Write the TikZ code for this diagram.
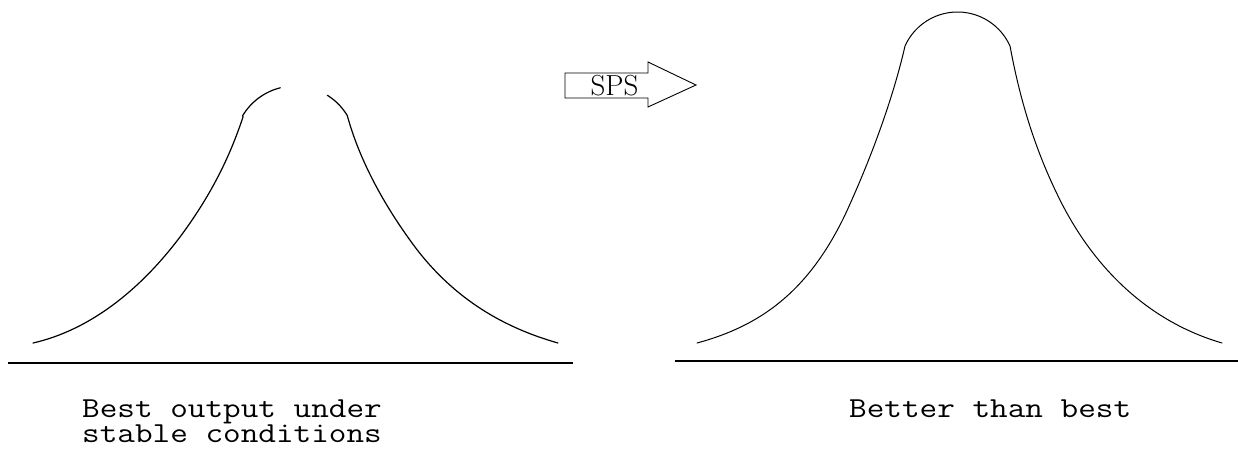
\documentclass[tikz,border=0pt]{standalone}
\usepackage{fontspec}
\usepackage{graphicx}
\newcommand{\wide}[1]{\scalebox{1.18}[1]{#1}}
\begin{document}
\begin{tikzpicture}[x=1pt,y=-1pt,
  curve/.style={line width=1.2pt,line join=round,line cap=round},
  axis/.style={line width=1.5pt},
  lbl/.style={inner sep=0pt,anchor=base west,font=\fontsize{29}{25.5}\selectfont\ttfamily},
  arrowbox/.style={line width=0.9pt,line join=miter}]
\useasboundingbox (0,0) rectangle (1238,455);
% left distribution
\draw[curve] (33,343) .. controls (90,330) and (140,290) .. (180,237)
  .. controls (215,190) and (232,150) .. (243,117)
  -- plot[domain=149:104,samples=20] ({295+61*cos(\x)},{147-61*sin(\x)});
\draw[curve] plot[domain=58:31,samples=15] ({295+61*cos(\x)},{147-61*sin(\x)})
  .. controls (358,155) and (380,200) .. (415,247)
  .. controls (455,300) and (505,328) .. (558,343);
\draw[axis] (8,363) -- (573,363);
% right distribution
\draw[curve,line width=1pt] (697,343) .. controls (760,326) and (808,292) .. (845,215)
  .. controls (875,150) and (895,90) .. (905,46)
  -- plot[domain=156:24,samples=40] ({957.5+57.5*cos(\x)},{69.5-57.5*sin(\x)})
  .. controls (1020,100) and (1035,150) .. (1060,200)
  .. controls (1095,270) and (1150,322) .. (1222,343);
\draw[axis] (675,361) -- (1238,361);
% SPS arrow
\draw[arrowbox] (565,73) -- (648,73) -- (648,62) -- (696,85) -- (648,107) -- (648,98) -- (565,98) -- cycle;
\node[inner sep=0pt,anchor=base,font=\fontsize{29}{29}\selectfont] (sps) at (614.5,95) {SPS};
% labels
\node[lbl,align=left] (left1) at (82,442.5) {\wide{Best output under}\\\wide{stable conditions}};
\node[lbl] (right1) at (849,417) {\wide{Better than best}};
\end{tikzpicture}
\end{document}
